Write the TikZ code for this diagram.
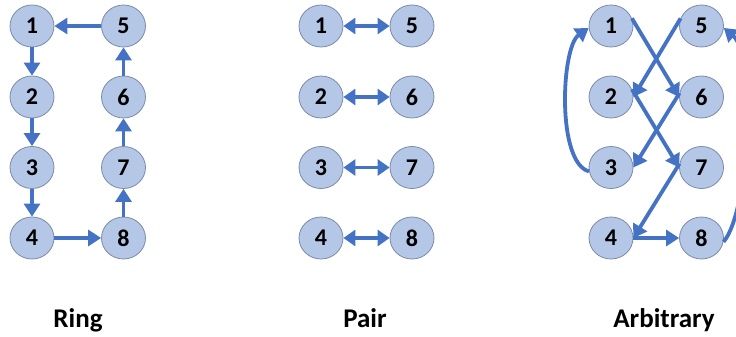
\documentclass[tikz,border=0pt]{standalone}
\usepackage{fontspec}
\setmainfont{Carlito}
\usetikzlibrary{shapes.geometric,arrows.meta}
\definecolor{nodefill}{HTML}{B4C7E7}
\definecolor{nodeline}{HTML}{7A8AA8}
\definecolor{edgeblue}{HTML}{4472C4}
\tikzset{
  vtx/.style={ellipse,draw=nodeline,line width=0.8pt,fill=nodefill,
    minimum width=44pt,minimum height=42pt,inner sep=0pt,
    font=\fontsize{24}{24}\selectfont\bfseries},
  link/.style={draw=edgeblue,line width=3.8pt,
    -{Triangle[width=16pt,length=13pt]}},
  dlink/.style={draw=edgeblue,line width=3.8pt,
    {Triangle[width=16pt,length=12pt]}-{Triangle[width=16pt,length=12pt]}},
  caption/.style={font=\fontsize{27}{27}\selectfont\bfseries,anchor=base}
}
\begin{document}
\begin{tikzpicture}[x=1pt,y=-1pt]
\useasboundingbox (0,0) rectangle (736,337);

% Ring
\foreach \i/\y in {1/26,2/97,3/167.5,4/238}{
  \node[vtx] (r\i) at (32,\y) {\i};
}
\foreach \i/\y in {5/26,6/97,7/167.5,8/238}{
  \node[vtx] (r\i) at (123.5,\y) {\i};
}
\draw[link] (r5) -- (r1);
\draw[link] (r1) -- (r2);
\draw[link] (r2) -- (r3);
\draw[link] (r3) -- (r4);
\draw[link] (r4) -- (r8);
\draw[link] (r8) -- (r7);
\draw[link] (r7) -- (r6);
\draw[link] (r6) -- (r5);
\node[caption] (lr) at (78,327) {Ring};

% Pair
\foreach \i/\y in {1/26,2/97,3/167.5,4/238}{
  \node[vtx] (p\i) at (321,\y) {\i};
}
\foreach \i/\y in {5/26,6/97,7/167.5,8/238}{
  \node[vtx] (p\i) at (412,\y) {\i};
}
\draw[dlink] (p1) -- (p5);
\draw[dlink] (p2) -- (p6);
\draw[dlink] (p3) -- (p7);
\draw[dlink] (p4) -- (p8);
\node[caption] (lp) at (365,327) {Pair};

% Arbitrary
\foreach \i/\y in {1/26,2/97,3/167.5,4/238}{
  \node[vtx] (a\i) at (611,\y) {\i};
}
\foreach \i/\y in {5/26,6/97,7/167.5,8/238}{
  \node[vtx] (a\i) at (701.5,\y) {\i};
}
\draw[link] (a1.20) -- (a6.180);
\draw[link] (a5.160) -- (a2.0);
\draw[link] (a2.20) -- (a7.180);
\draw[link] (a6.170) -- (a3.0);
\draw[link] (a7.170) -- (a4.0);
\draw[link] (a4.0) -- (a8.180);
\draw[link] (a3.190) to[out=165,in=215,looseness=0.6] (a1.185);
\draw[link] (a8.350) to[out=50,in=-40,looseness=0.5] (a5.355);
\node[caption] (la) at (664,327) {Arbitrary};
\end{tikzpicture}
\end{document}
